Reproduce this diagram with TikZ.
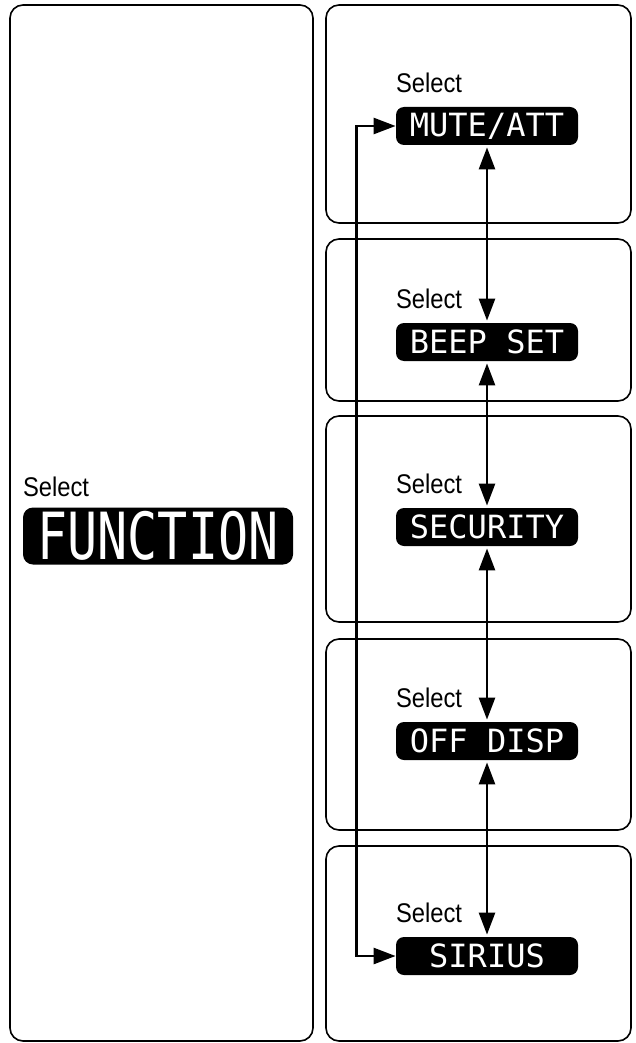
\documentclass[tikz,border=0pt]{standalone}
\usepackage{fontspec}
\usepackage{graphicx}
\setmainfont{Liberation Sans}[FakeStretch=0.88]
\newfontfamily\lcdfont{DejaVu Sans Mono}
\usetikzlibrary{arrows.meta, positioning}

\begin{document}
\begin{tikzpicture}[x=0.5pt, y=-0.5pt,
    pane/.style={draw, line width=0.8pt, rounded corners=6.5pt},
    lcd/.style={fill=black, text=white, rounded corners=4pt, inner sep=0pt,
                minimum width=91pt, minimum height=19pt, font=\lcdfont\fontsize{16}{16}\selectfont},
    lcdbig/.style={lcd, rounded corners=5pt, minimum width=135pt, minimum height=28.5pt,
                   font=\lcdfont\fontsize{25}{25}\selectfont},
    sel/.style={anchor=south west, inner sep=0pt, font=\fontsize{13.5}{13.5}\selectfont},
    link/.style={{Triangle[length=11pt, width=8pt]}-{Triangle[length=11pt, width=8pt]}, line width=1.3pt},
]
    \useasboundingbox (0,0) rectangle (636,1043);

    % panels
    \draw[pane] (10,5) rectangle (313,1041);
    \draw[pane] (326,5) rectangle (631,223);
    \draw[pane] (326,239) rectangle (631,401);
    \draw[pane] (326,416) rectangle (631,622);
    \draw[pane] (326,639) rectangle (631,830);
    \draw[pane] (326,846) rectangle (631,1041);

    % displays
    \node[lcdbig] (func) at (158,536) {\scalebox{1}[1.3]{FUNCTION}};
    \node[lcd] (mute) at (487,126) {MUTE/ATT};
    \node[lcd] (beep) at (487,342) {BEEP SET};
    \node[lcd] (secu) at (487,527) {SECURITY};
    \node[lcd] (offd) at (487,741) {OFF DISP};
    \node[lcd] (siri) at (487,956) {SIRIUS};

    \node[sel] (funcsel) at ([yshift=5pt]func.north west) {Select};
    \node[sel] (mutesel) at ([yshift=6.5pt]mute.north west) {Select};
    \node[sel] (beepsel) at ([yshift=6.5pt]beep.north west) {Select};
    \node[sel] (secusel) at ([yshift=6.5pt]secu.north west) {Select};
    \node[sel] (offdsel) at ([yshift=6.5pt]offd.north west) {Select};
    \node[sel] (sirisel) at ([yshift=6.5pt]siri.north west) {Select};

    % cycle
    \draw[link, shorten <=1pt, shorten >=1pt] (mute) -- (beep);
    \draw[link, shorten <=1pt, shorten >=1pt] (beep) -- (secu);
    \draw[link, shorten <=1pt, shorten >=1pt] (secu) -- (offd);
    \draw[link, shorten <=1pt, shorten >=1pt] (offd) -- (siri);
    \draw[link] (siri.west) -- ++(-39,0) |- (mute.west);
\end{tikzpicture}
\end{document}
